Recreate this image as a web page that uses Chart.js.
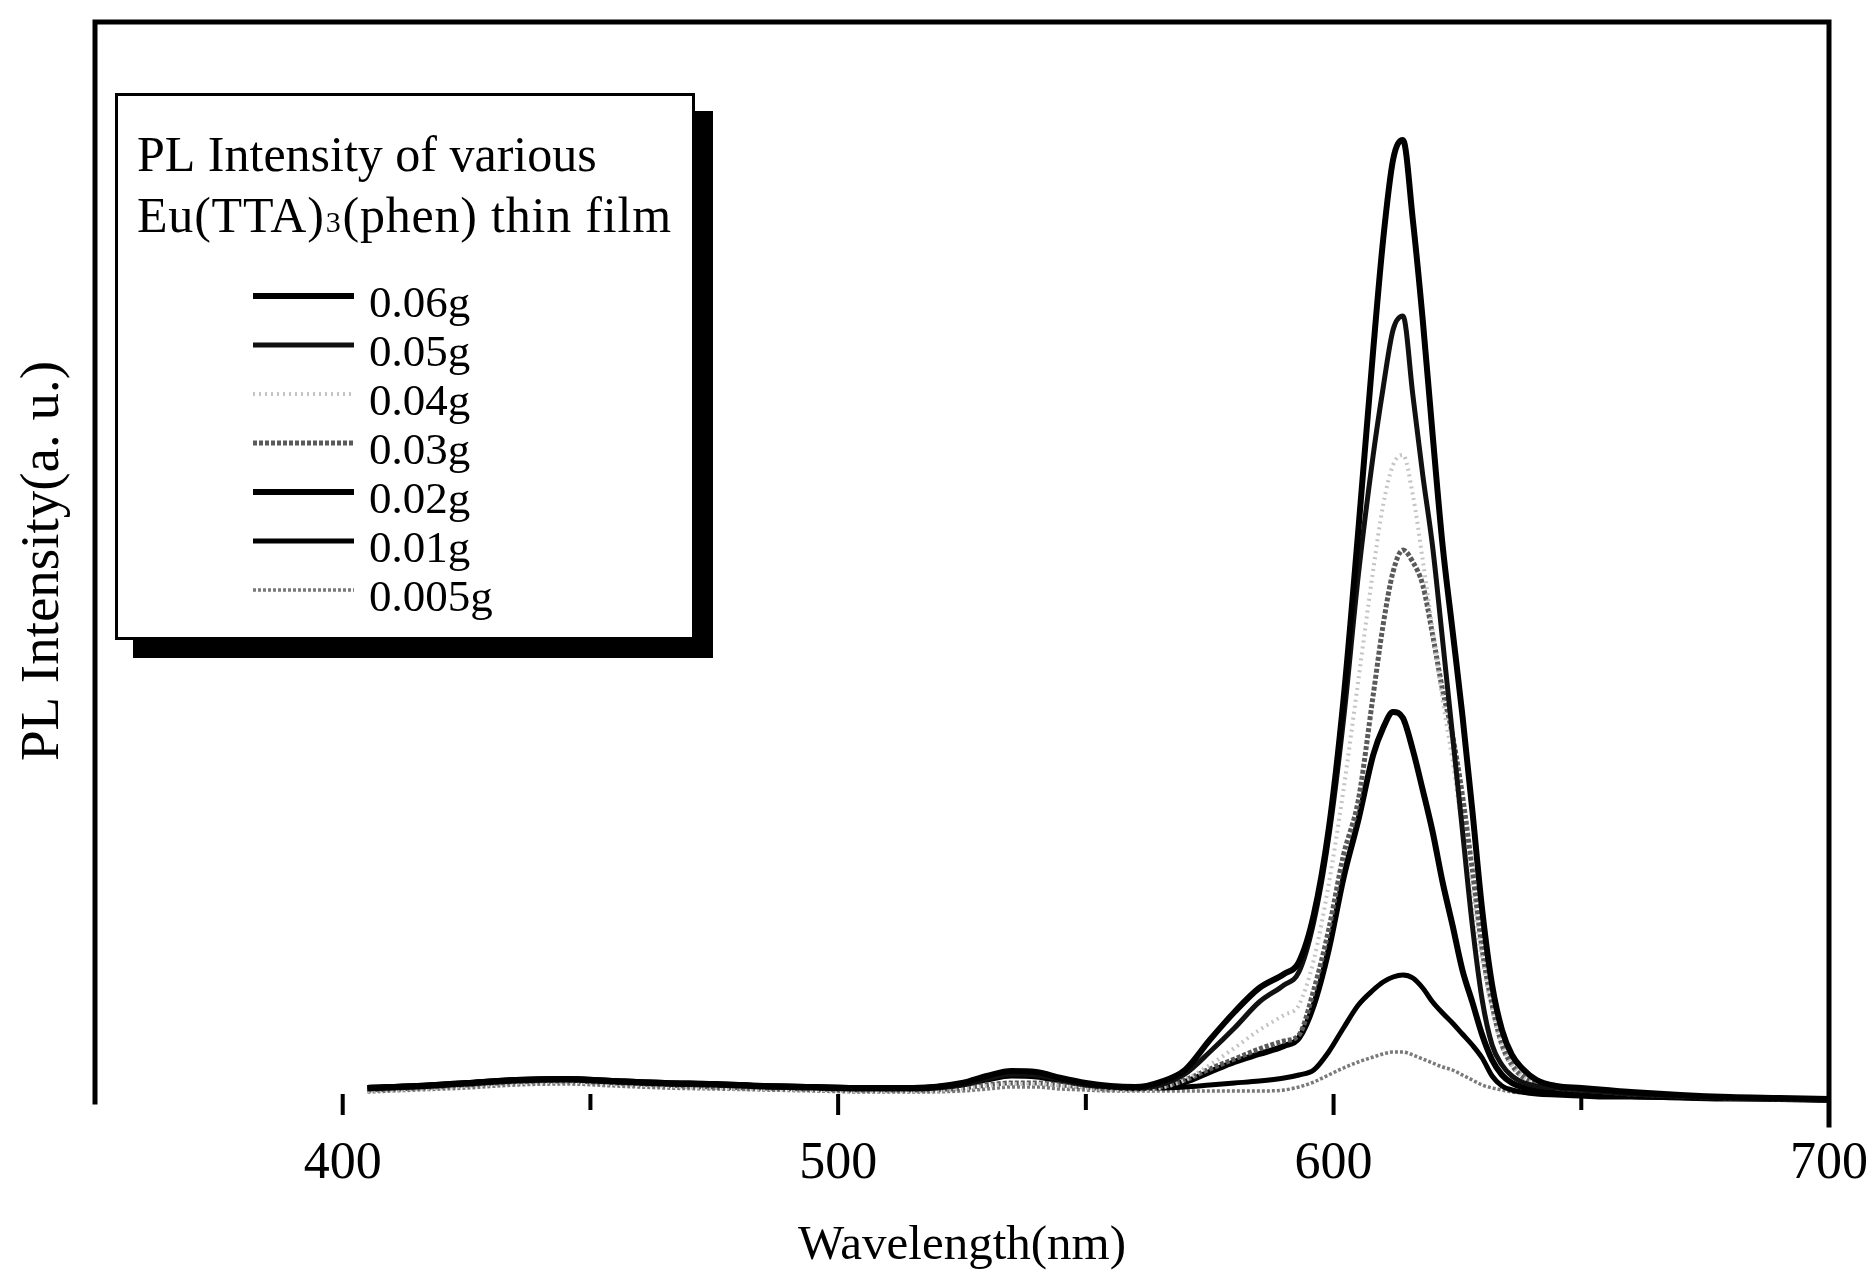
<!DOCTYPE html>
<html>
<head>
<meta charset="utf-8">
<title>PL Intensity of various Eu(TTA)3(phen) thin film</title>
<script src="https://cdn.jsdelivr.net/npm/chart.js@4.4.1/dist/chart.umd.min.js"></script>
<style>
  html, body { margin:0; padding:0; background:#fff; }
  #wrap { width:1868px; height:1271px; }
</style>
</head>
<body>
<div id="wrap"><canvas id="c" width="1868" height="1271"></canvas></div>
<script>
// --- datos (intensidad en u.a.) ---
const WAVELENGTH = [405, 415, 425, 435, 445, 455, 465, 475, 485, 495, 505, 515, 525,
  530, 535, 540, 545, 550, 555, 560, 565, 570, 575, 580, 585, 590,
  593, 596, 599, 602, 605, 608,
  610, 612, 614, 616, 618, 620, 622, 624, 626, 628, 630, 632, 634, 636, 638,
  641, 645, 650, 655, 660, 670, 680, 690, 700];

const SERIES_LABELS = ["0.06g", "0.05g", "0.04g", "0.03g", "0.02g", "0.01g", "0.005g"];

const PL_006 = [12, 14, 17, 20, 21, 19, 17, 16, 14, 13, 12, 12, 17,
  24, 29, 28, 22, 17, 14, 13, 18, 30, 60, 88, 112, 126,
  138, 185, 270, 400, 570, 750,
  860, 940, 960, 880, 780, 665, 555, 470, 385, 290, 190, 115, 70, 45, 32,
  20, 14, 12, 10, 8, 5, 3, 2, 1];

const PL_005 = [11, 13, 16, 19, 20, 18, 16, 15, 13, 12, 11, 11, 15,
  21, 26, 25, 20, 15, 13, 12, 15, 26, 48, 72, 98, 115,
  128, 178, 262, 380, 525, 645,
  712, 770, 784, 705, 625, 553, 460, 365, 270, 175, 100, 55, 35, 24, 18,
  14, 12, 10, 8, 6, 4, 2, 1, 0];

const PL_004 = [9, 11, 14, 17, 18, 16, 14, 12, 11, 10, 9, 9, 11,
  14, 16, 16, 14, 12, 10, 10, 12, 20, 35, 52, 70, 85,
  95, 140, 215, 310, 420, 530,
  595, 635, 645, 605, 540, 470, 400, 340, 270, 200, 140, 90, 55, 35, 24,
  16, 12, 10, 8, 6, 4, 2, 1, 0];

const PL_003 = [10, 12, 15, 18, 19, 17, 15, 13, 12, 11, 10, 10, 12,
  15, 17, 17, 15, 13, 11, 11, 13, 20, 31, 41, 51, 59,
  65, 110, 170, 245, 300, 405,
  475, 528, 550, 538, 515, 465, 410, 365, 305, 230, 150, 95, 55, 35, 24,
  16, 12, 10, 8, 6, 4, 2, 1, 0];

const PL_002 = [12, 14, 17, 20, 21, 19, 17, 16, 14, 13, 12, 12, 16,
  22, 26, 25, 20, 16, 13, 12, 14, 18, 28, 38, 46, 54,
  62, 95, 150, 222, 280, 345,
  372, 388, 382, 350, 310, 268, 218, 175, 130, 98, 65, 40, 25, 17, 13,
  10, 8, 6, 5, 4, 3, 2, 1, 0];

const PL_001 = [12, 14, 16, 19, 20, 18, 16, 15, 14, 13, 12, 12, 15,
  20, 24, 23, 19, 15, 13, 12, 12, 13, 15, 17, 19, 22,
  25, 30, 48, 72, 95, 110,
  118, 123, 125, 122, 112, 98, 87, 77, 66, 55, 42, 24, 14, 10, 8,
  6, 5, 4, 3, 3, 2, 1, 1, 0];

const PL_0005 = [8, 10, 12, 15, 16, 14, 12, 11, 10, 9, 8, 8, 9,
  11, 13, 13, 11, 10, 9, 9, 9, 9, 9, 9, 9, 10,
  13, 18, 25, 32, 38, 43,
  46, 48, 48, 45, 41, 37, 33, 30, 25, 20, 15, 12, 10, 8, 7,
  6, 5, 4, 4, 3, 2, 2, 1, 1];

const X_MIN = 350, X_MAX = 700, X_STEP = 50;
const X_TICK_LABELS = [400, 500, 600, 700];
const Y_MAX = 1078;

const SERIF = "'Liberation Serif', 'Times New Roman', serif";

// estilo de cada curva (mismo orden que SERIES_LABELS)
const STYLES = [
  { color: "#000", width: 6,   dash: [] },
  { color: "#111", width: 5,   dash: [] },
  { color: "#c4c4c4", width: 4, dash: [2, 4] },
  { color: "#5a5a5a", width: 5, dash: [4, 2] },
  { color: "#000", width: 6,   dash: [] },
  { color: "#000", width: 5,   dash: [] },
  { color: "#7a7a7a", width: 3.5, dash: [3, 2] }
];

const SERIES = [PL_006, PL_005, PL_004, PL_003, PL_002, PL_001, PL_0005];

const toPoints = (ys) => WAVELENGTH.map((x, i) => ({ x, y: ys[i] }));

// marco superior / izquierdo / derecho
const framePlugin = {
  id: "frame",
  afterDraw(chart){
    const { ctx, chartArea: a } = chart;
    ctx.save();
    ctx.strokeStyle = "#000";
    ctx.lineWidth = 5;
    ctx.lineCap = "square";
    ctx.beginPath();
    ctx.moveTo(a.left, a.bottom + 2);
    ctx.lineTo(a.left, a.top);
    ctx.lineTo(a.right, a.top);
    ctx.lineTo(a.right, a.bottom + 25);
    ctx.stroke();
    ctx.restore();
  }
};

// marcas del eje x (mayores cada 100, menores cada 50)
const tickMarks = {
  id: "tickMarks",
  afterDraw(chart){
    const { ctx, chartArea: a } = chart;
    const xs = chart.scales.x;
    ctx.save();
    ctx.strokeStyle = "#000";
    ctx.lineWidth = 4;
    ctx.beginPath();
    xs.ticks.forEach(t => {
      if (t.value <= xs.min || t.value >= xs.max) return;
      const px = xs.getPixelForValue(t.value);
      const major = t.value % 100 === 0;
      ctx.moveTo(px, a.bottom - 6);
      ctx.lineTo(px, a.bottom + (major ? 15 : 10));
    });
    ctx.stroke();
    ctx.restore();
  }
};

// cuadro de leyenda con sombra
const legendBox = {
  id: "legendBox",
  afterDraw(chart){
    const ctx = chart.ctx;
    const box = { x: 115, y: 93, w: 580, h: 547, shadow: 18 };
    ctx.save();
    ctx.fillStyle = "#000";
    ctx.fillRect(box.x + box.shadow, box.y + box.shadow, box.w, box.h);
    ctx.fillStyle = "#fff";
    ctx.fillRect(box.x, box.y, box.w, box.h);
    ctx.strokeStyle = "#000";
    ctx.lineWidth = 3;
    ctx.strokeRect(box.x + 1.5, box.y + 1.5, box.w - 3, box.h - 3);

    ctx.fillStyle = "#000";
    ctx.textBaseline = "alphabetic";
    ctx.font = `50px ${SERIF}`;
    ctx.fillText("PL Intensity of various", 137, 171);
    ctx.letterSpacing = "0.8px";
    let x = 137;
    ctx.fillText("Eu(TTA)", x, 232);
    x += ctx.measureText("Eu(TTA)").width;
    ctx.font = `30px ${SERIF}`;
    ctx.fillText("3", x + 1, 232);
    x += ctx.measureText("3").width + 2;
    ctx.font = `50px ${SERIF}`;
    ctx.fillText("(phen) thin film", x, 232);
    ctx.letterSpacing = "0px";

    ctx.font = `45px ${SERIF}`;
    chart.data.datasets.forEach((ds, i) => {
      const y = 296 + i * 49;
      ctx.save();
      ctx.strokeStyle = ds.borderColor;
      ctx.lineWidth = ds.borderWidth;
      ctx.setLineDash(ds.borderDash || []);
      ctx.beginPath();
      ctx.moveTo(253, y);
      ctx.lineTo(354, y);
      ctx.stroke();
      ctx.restore();
      ctx.fillText(ds.label, 369, y + 21);
    });
    ctx.restore();
  }
};

const datasets = SERIES.map((ys, i) => ({
  label: SERIES_LABELS[i],
  data: toPoints(ys),
  borderColor: STYLES[i].color,
  borderWidth: STYLES[i].width,
  borderDash: STYLES[i].dash,
  pointRadius: 0,
  fill: false,
  cubicInterpolationMode: "monotone",
  clip: 10
}));

new Chart(document.getElementById("c"), {
  type: "line",
  data: { datasets },
  options: {
    responsive: false,
    animation: false,
    devicePixelRatio: 1,
    layout: { padding: { top: 22, right: 39, left: 0, bottom: 0 } },
    plugins: {
      legend: { display: false },
      tooltip: { enabled: false }
    },
    scales: {
      x: {
        type: "linear",
        min: X_MIN, max: X_MAX,
        afterFit: (s) => { s.height = 171; s.paddingLeft = 0; s.paddingRight = 0; },
        grid: { display: false, drawTicks: false },
        border: { display: false },
        ticks: {
          stepSize: X_STEP,
          autoSkip: false,
          maxRotation: 0,
          padding: 33,
          color: "#000",
          font: { family: SERIF, size: 52 },
          callback: (v) => X_TICK_LABELS.includes(v) ? String(v) : ""
        },
        title: {
          display: true,
          text: "Wavelength(nm)",
          color: "#000",
          font: { family: SERIF, size: 49, lineHeight: 1 },
          padding: { top: 0, bottom: 0 }
        }
      },
      y: {
        min: 0, max: Y_MAX,
        afterFit: (s) => { s.width = 95; },
        grid: { display: false, drawTicks: false },
        border: { display: false },
        ticks: { display: false },
        title: {
          display: true,
          text: "PL Intensity(a. u.)",
          color: "#000",
          font: { family: SERIF, size: 55, lineHeight: 1 },
          padding: { top: 16, bottom: 0 }
        }
      }
    }
  },
  plugins: [framePlugin, tickMarks, legendBox]
});
</script>
</body>
</html>
